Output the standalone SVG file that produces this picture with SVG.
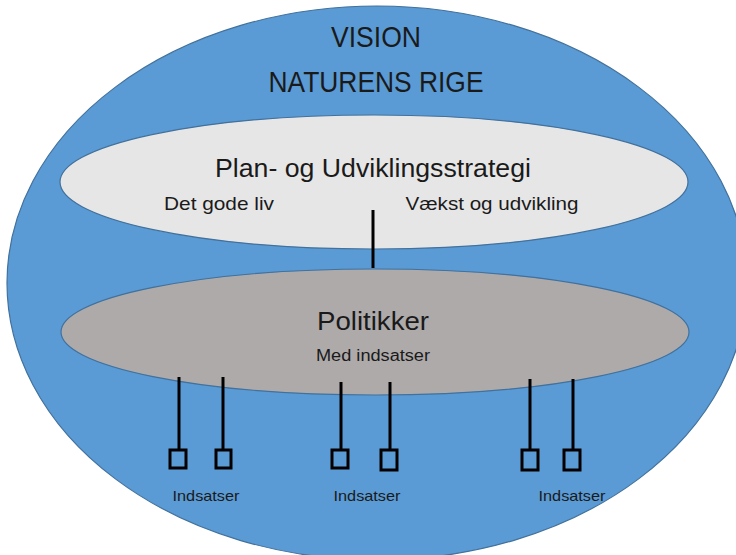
<svg xmlns="http://www.w3.org/2000/svg" width="736" height="555" viewBox="0 0 736 555">
<style>
  text { font-family: "Liberation Sans", "DejaVu Sans", sans-serif; fill: #1a1a1a; text-anchor: middle; }
  .ell { stroke: #41719C; stroke-width: 1.2; }
  .conn { stroke: #000; stroke-width: 3; fill: none; }
  .box { stroke: #000; stroke-width: 3; fill: none; }
  .lbl { font-size: 15px; }
</style>
<rect width="736" height="555" fill="#ffffff"/>
<g id="vision">
  <ellipse class="ell" cx="377" cy="283" rx="370" ry="277" fill="#5B9BD5"/>
  <text x="376" y="47" font-size="29" textLength="90" lengthAdjust="spacingAndGlyphs">VISION</text>
  <text x="376" y="92" font-size="29" textLength="215" lengthAdjust="spacingAndGlyphs">NATURENS RIGE</text>
</g>
<g id="strategi">
  <ellipse class="ell" cx="374" cy="182" rx="314" ry="67" fill="#E7E6E6"/>
  <text x="373" y="177" font-size="25" textLength="316" lengthAdjust="spacingAndGlyphs">Plan- og Udviklingsstrategi</text>
  <text x="219" y="210" font-size="19" textLength="110" lengthAdjust="spacingAndGlyphs">Det gode liv</text>
  <text x="492" y="210" font-size="19" textLength="173" lengthAdjust="spacingAndGlyphs">Vækst og udvikling</text>
</g>
<g id="politikker">
  <ellipse class="ell" cx="375" cy="332" rx="314" ry="63" fill="#AEAAAA"/>
  <text x="373" y="330" font-size="25" textLength="112" lengthAdjust="spacingAndGlyphs">Politikker</text>
  <text x="373" y="361" font-size="16" textLength="114" lengthAdjust="spacingAndGlyphs">Med indsatser</text>
</g>
<g id="connectors">
  <line class="conn" x1="373" y1="210" x2="373" y2="268"/>
  <line class="conn" x1="179" y1="377" x2="179" y2="450"/>
  <line class="conn" x1="223" y1="377" x2="223" y2="450"/>
  <line class="conn" x1="341" y1="382" x2="341" y2="450"/>
  <line class="conn" x1="390" y1="382" x2="390" y2="450"/>
  <line class="conn" x1="530" y1="379" x2="530" y2="450"/>
  <line class="conn" x1="573" y1="379" x2="573" y2="450"/>
</g>
<g id="indsatser-1">
  <rect class="box" x="170" y="450" width="16" height="18"/>
  <rect class="box" x="216" y="450" width="15" height="18"/>
  <text class="lbl" x="206" y="501" textLength="67" lengthAdjust="spacingAndGlyphs">Indsatser</text>
</g>
<g id="indsatser-2">
  <rect class="box" x="332" y="450" width="16" height="18"/>
  <rect class="box" x="381" y="450" width="16" height="20"/>
  <text class="lbl" x="367" y="501" textLength="67" lengthAdjust="spacingAndGlyphs">Indsatser</text>
</g>
<g id="indsatser-3">
  <rect class="box" x="522" y="450" width="16" height="20"/>
  <rect class="box" x="564" y="450" width="16" height="20"/>
  <text class="lbl" x="572" y="501" textLength="67" lengthAdjust="spacingAndGlyphs">Indsatser</text>
</g>
</svg>
